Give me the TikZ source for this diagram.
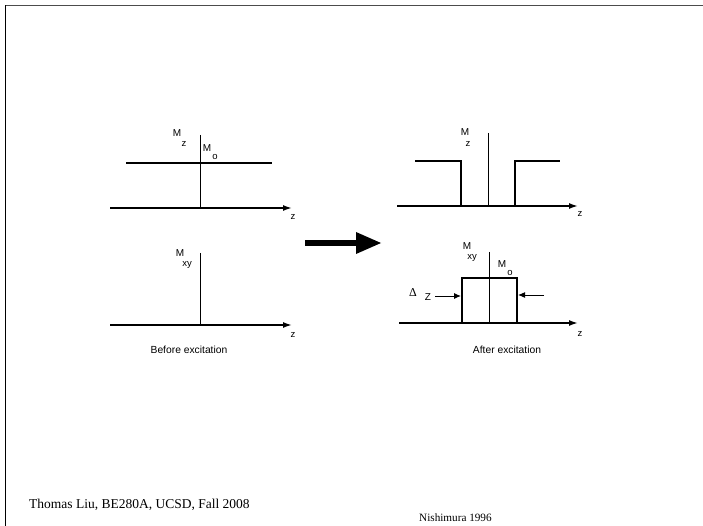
\documentclass[tikz,border=0pt]{standalone}
\usepackage{fontspec}
\setmainfont{Liberation Serif}
\newfontfamily\labelfont{Liberation Sans}
\usetikzlibrary{arrows.meta}
\begin{document}
\begin{tikzpicture}[x=1pt,y=-1pt,
  axis/.style={line width=1.6pt,-{Latex[length=9pt,width=6pt]}},
  vaxis/.style={line width=0.9pt},
  prof/.style={line width=1.8pt},
  lab/.style={font=\labelfont\fontsize{10}{10}\selectfont,inner sep=0pt},
  sublab/.style={font=\labelfont\fontsize{9.5}{9.5}\selectfont,inner sep=0pt},
  capt/.style={font=\labelfont\fontsize{10.3}{10.3}\selectfont,inner sep=0pt},
  foot/.style={font=\fontsize{13.5}{13.5}\selectfont,inner sep=0pt,anchor=west},
  gap/.style={line width=1pt,-{Latex[length=7pt,width=6pt]}}]
\useasboundingbox (0,0) rectangle (703,526);
% page frame
\coordinate (fTR) at (703,5.5);
\coordinate (fTL) at (5.5,5.5);
\coordinate (fBL) at (5.5,526);
\draw[line width=1.4pt,black!70] (fTR) -- (fTL);
\draw[line width=1.4pt] (fTL) -- (fBL);

% ---- before excitation: Mz
\coordinate (a1l) at (110,208); \coordinate (a1r) at (292,208);
\coordinate (v1t) at (200,135); \coordinate (v1b) at (200,208);
\coordinate (m1l) at (126,163); \coordinate (m1r) at (272,163);
\draw[axis] (a1l) -- (a1r);
\draw[vaxis] (v1t) -- (v1b);
\draw[prof] (m1l) -- (m1r);
\node[lab] (mz1) at (177,133) {M};
\node[sublab] (mz1s) at (184,144) {z};
\node[lab] (mo1) at (207,148) {M};
\node[sublab] (mo1s) at (215,157) {o};
\node[sublab] (z1) at (293,217) {z};

% ---- before excitation: Mxy
\coordinate (a2l) at (110,325); \coordinate (a2r) at (292,325);
\coordinate (v2t) at (200,253); \coordinate (v2b) at (200,325);
\draw[axis] (a2l) -- (a2r);
\draw[vaxis] (v2t) -- (v2b);
\node[lab] (mxy2) at (180,253) {M};
\node[sublab] (mxy2s) at (187,265) {xy};
\node[sublab] (z2) at (293,335) {z};
\node[capt] (cap1) at (189,350) {Before excitation};

% ---- big arrow
\coordinate (bA) at (305,243); \coordinate (bB) at (358,243);
\coordinate (bT) at (381,243);
\draw[line width=6pt] (bA) -- (bB);
\fill (356,232) -- (bT) -- (356,254) -- cycle;

% ---- after excitation: Mz
\coordinate (a3l) at (397,206); \coordinate (a3r) at (578,206);
\coordinate (v3t) at (488,133); \coordinate (v3b) at (488,206);
\draw[axis] (a3l) -- (a3r);
\draw[vaxis] (v3t) -- (v3b);
\draw[prof] (415,161) -- (461,161) -- (461,206) -- (515,206) -- (515,161) -- (560,161);
\node[lab] (mz3) at (465,132) {M};
\node[sublab] (mz3s) at (468,144) {z};
\node[sublab] (z3) at (580,214) {z};

% ---- after excitation: Mxy
\coordinate (a4l) at (399,323); \coordinate (a4r) at (578,323);
\coordinate (v4t) at (489,252); \coordinate (v4b) at (489,323);
\draw[axis] (a4l) -- (a4r);
\draw[vaxis] (v4t) -- (v4b);
\draw[prof] (462,323) -- (462,278) -- (517,278) -- (517,323);
\node[lab] (mxy4) at (467,246) {M};
\node[sublab] (mxy4s) at (472,258) {xy};
\node[lab] (mo4) at (502,264) {M};
\node[sublab] (mo4s) at (510,273) {o};
\node[inner sep=0pt,font=\fontsize{12}{12}\selectfont] (dl) at (413,293) {Δ};
\node[lab] (dz) at (428,297) {Z};
\coordinate (gL0) at (435,296); \coordinate (gL1) at (461,296);
\coordinate (gR0) at (544,295); \coordinate (gR1) at (518,295);
\draw[gap] (gL0) -- (gL1);
\draw[gap] (gR0) -- (gR1);
\node[sublab] (z4) at (580,334) {z};
\node[capt] (cap2) at (507,350) {After excitation};

% ---- footer
\node[foot] (auth) at (29,505) {Thomas Liu, BE280A, UCSD, Fall 2008};
\node[foot,font=\fontsize{11.2}{11.2}\selectfont] (src) at (419,518) {Nishimura 1996};
\end{tikzpicture}
\end{document}
